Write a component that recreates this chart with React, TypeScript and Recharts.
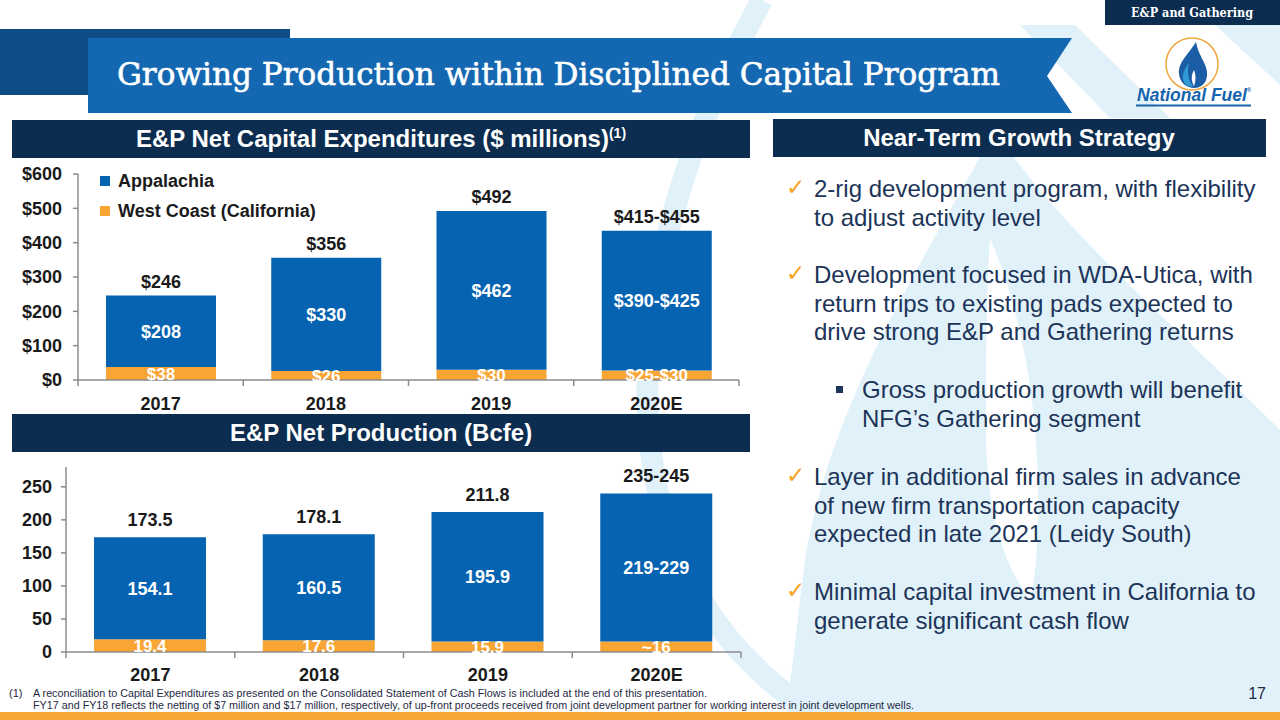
import React from "react";
import { BarChart, Bar, XAxis, YAxis, Legend, LabelList } from "recharts";

// ---- data ----
const YEARS = ["2017", "2018", "2019", "2020E"];

const CAPEX_WEST = [38, 26, 30, 27.5];
const CAPEX_APPALACHIA = [208, 330, 462, 407.5];
const CAPEX_WEST_LABELS = ["$38", "$26", "$30", "$25-$30"];
const CAPEX_APP_LABELS = ["$208", "$330", "$462", "$390-$425"];
const CAPEX_TOTAL_LABELS = ["$246", "$356", "$492", "$415-$455"];
const CAPEX_TICKS = [0, 100, 200, 300, 400, 500, 600];

const PROD_WEST = [19.4, 17.6, 15.9, 16];
const PROD_APPALACHIA = [154.1, 160.5, 195.9, 224];
const PROD_WEST_LABELS = ["19.4", "17.6", "15.9", "~16"];
const PROD_APP_LABELS = ["154.1", "160.5", "195.9", "219-229"];
const PROD_TOTAL_LABELS = ["173.5", "178.1", "211.8", "235-245"];
const PROD_TICKS = [0, 50, 100, 150, 200, 250];

const SERIES = ["Appalachia", "West Coast (California)"];

const capexData = YEARS.map((year, i) => ({
  year,
  west: CAPEX_WEST[i],
  app: CAPEX_APPALACHIA[i],
  westLabel: CAPEX_WEST_LABELS[i],
  appLabel: CAPEX_APP_LABELS[i],
  totalLabel: CAPEX_TOTAL_LABELS[i],
}));

const prodData = YEARS.map((year, i) => ({
  year,
  west: PROD_WEST[i],
  app: PROD_APPALACHIA[i],
  westLabel: PROD_WEST_LABELS[i],
  appLabel: PROD_APP_LABELS[i],
  totalLabel: PROD_TOTAL_LABELS[i],
}));

// ---- styles ----
const FONT = "'Liberation Sans', Arial, sans-serif";
const SERIF = "'DejaVu Serif', serif";
const BLUE = "#0563b1";
const ORANGE = "#f9a533";
const NAVY = "#0c2d4f";
const TEXT = "#1a1a1a";
const BODY = "#1c3458";
const AXIS = "#8c8c8c";
const LIGHT = "#e1f1f9";

const labelStyle = { fontSize: 18, fontWeight: "bold", fontFamily: FONT };

function CategoryTick(props: any) {
  const { x, y, payload, index, visibleTicksCount, half, textDy } = props;
  const h = payload && payload.offset ? payload.offset : half;
  const last = index === (visibleTicksCount || YEARS.length) - 1;
  return (
    <g>
      <line x1={x - h} x2={x - h} y1={y} y2={y + 6} stroke={AXIS} strokeWidth={1.5} />
      {last && <line x1={x + h} x2={x + h} y1={y} y2={y + 6} stroke={AXIS} strokeWidth={1.5} />}
      <text x={x} y={y + textDy} textAnchor="middle" fill={TEXT} {...labelStyle}>
        {payload.value}
      </text>
    </g>
  );
}

function CapexLegend() {
  const colors = [BLUE, ORANGE];
  return (
    <div style={{ fontFamily: FONT }}>
      {SERIES.map((name, i) => (
        <div key={name} style={{ display: "flex", alignItems: "center", height: 30 }}>
          <span style={{ width: 10, height: 10, background: colors[i], marginRight: 8, display: "inline-block" }} />
          <span style={{ fontSize: 18, fontWeight: "bold", color: TEXT }}>{name}</span>
        </div>
      ))}
    </div>
  );
}

function CapexChart() {
  return (
    <BarChart width={760} height={255} data={capexData} margin={{ top: 14, right: 21, bottom: 0, left: 0 }}>
      <XAxis
        dataKey="year"
        interval={0}
        height={35}
        tickSize={0}
        tickMargin={0}
        tickLine={false}
        axisLine={{ stroke: AXIS, strokeWidth: 1.5 }}
        tick={<CategoryTick half={82.6} textDy={29.5} />}
      />
      <YAxis
        domain={[0, 600]}
        ticks={CAPEX_TICKS}
        interval={0}
        width={78}
        tickFormatter={(v) => `$${v}`}
        tickSize={5}
        tickMargin={11}
        axisLine={{ stroke: AXIS, strokeWidth: 1.5 }}
        tickLine={{ stroke: AXIS, strokeWidth: 1.5 }}
        tick={{ fill: TEXT, ...labelStyle }}
      />
      <Legend
        layout="vertical"
        align="center"
        verticalAlign="middle"
        wrapperStyle={{ left: 100, top: 6, width: 300 }}
        content={() => <CapexLegend />}
      />
      <Bar dataKey="west" stackId="a" fill={ORANGE} barSize={110} isAnimationActive={false}>
        <LabelList dataKey="westLabel" position="center" fill="#fff" {...labelStyle} fontSize={17} />
      </Bar>
      <Bar dataKey="app" stackId="a" fill={BLUE} barSize={110} isAnimationActive={false}>
        <LabelList dataKey="appLabel" position="center" fill="#fff" {...labelStyle} />
        <LabelList dataKey="totalLabel" position="top" offset={8} fill={TEXT} {...labelStyle} />
      </Bar>
    </BarChart>
  );
}

function ProdChart() {
  return (
    <BarChart width={760} height={235} data={prodData} margin={{ top: 12, right: 19, bottom: 0, left: 0 }}>
      <XAxis
        dataKey="year"
        interval={0}
        height={38}
        tickSize={0}
        tickMargin={0}
        tickLine={false}
        axisLine={{ stroke: AXIS, strokeWidth: 1.5 }}
        tick={<CategoryTick half={84.4} textDy={28.5} />}
      />
      <YAxis
        domain={[0, 280]}
        ticks={PROD_TICKS}
        interval={0}
        width={66}
        tickSize={5}
        tickMargin={9}
        axisLine={{ stroke: AXIS, strokeWidth: 1.5 }}
        tickLine={{ stroke: AXIS, strokeWidth: 1.5 }}
        tick={{ fill: TEXT, ...labelStyle }}
      />
      <Bar dataKey="west" stackId="a" fill={ORANGE} barSize={112} isAnimationActive={false}>
        <LabelList dataKey="westLabel" position="center" fill="#fff" {...labelStyle} fontSize={17} />
      </Bar>
      <Bar dataKey="app" stackId="a" fill={BLUE} barSize={112} isAnimationActive={false}>
        <LabelList dataKey="appLabel" position="center" fill="#fff" {...labelStyle} />
        <LabelList dataKey="totalLabel" position="top" offset={11} fill={TEXT} {...labelStyle} />
      </Bar>
    </BarChart>
  );
}

const BULLETS = [
  { kind: "check", lines: ["2-rig development program, with flexibility", "to adjust activity level"], y: 197 },
  {
    kind: "check",
    lines: ["Development focused in WDA-Utica, with", "return trips to existing pads expected to", "drive strong E&P and Gathering returns"],
    y: 283,
  },
  { kind: "sub", lines: ["Gross production growth will benefit", "NFG\u2019s Gathering segment"], y: 398 },
  {
    kind: "check",
    lines: ["Layer in additional firm sales in advance", "of new firm transportation capacity", "expected in late 2021 (Leidy South)"],
    y: 485,
  },
  { kind: "check", lines: ["Minimal capital investment in California to", "generate significant cash flow"], y: 600 },
];

function Slide() {
  return (
    <svg width={1280} height={720} style={{ position: "absolute", left: 0, top: 0 }}>
      <rect x={0} y={0} width={1280} height={720} fill="#fff" />
      {/* background watermark */}
      <path d="M 762 0 C 690 130, 630 300, 652 460 C 672 600, 760 700, 880 745" fill="none" stroke={LIGHT} strokeWidth={22} />
      <path d="M 995 130 C 930 250, 830 400, 805 560 C 795 640, 790 690, 785 720 L 1280 720 L 1280 430 C 1180 330, 1060 230, 995 130 Z" fill={LIGHT} />
      <path d="M 990 238 C 1025 320, 1040 420, 1038 520 C 1037 560, 1034 585, 1030 600 C 1000 560, 985 500, 986 420 C 986 340, 987 280, 990 238 Z" fill="#fff" />
      <polygon points="1020,25 1075,25 1170,118 1110,118" fill={LIGHT} />
      <polygon points="1215,25 1280,25 1280,85" fill={LIGHT} />

      {/* top tag */}
      <rect x={1105} y={0} width={175} height={25} fill={NAVY} />
      <text x={1131} y={17} fill="#fff" fontFamily={SERIF} fontWeight="bold" fontSize={13.5} textLength={122} lengthAdjust="spacingAndGlyphs">
        E&amp;P and Gathering
      </text>

      {/* title banner */}
      <rect x={0} y={29} width={290} height={66} fill="#0d4c86" />
      <polygon points="88,38 1072,38 1047,76 1072,113 88,113" fill="#1468b2" />
      <text x={117} y={85} fill="#fff" stroke="#fff" strokeWidth={0.6} fontFamily={SERIF} fontSize={32} textLength={883} lengthAdjust="spacingAndGlyphs">
        Growing Production within Disciplined Capital Program
      </text>

      {/* logo */}
      <circle cx={1192} cy={64} r={26} fill="#fff" stroke="#f2a541" strokeWidth={1.5} />
      <path d="M 1196 42 C 1188 55, 1178 62, 1179 74 C 1180 83, 1187 88, 1194 88 C 1202 88, 1208 82, 1207 72 C 1206 62, 1198 55, 1196 42 Z" fill="#1b5ea6" />
      <path d="M 1189 63 C 1183 70, 1181 78, 1185 84 C 1188 87, 1192 87, 1193 86 C 1188 80, 1187 72, 1189 63 Z" fill="#2e9bd6" />
      <path d="M 1194 70 C 1191 75, 1191 81, 1194 86 C 1196 81, 1196 75, 1194 70 Z" fill="#fff" />
      <text x={1137} y={101} fill="#1564ad" fontFamily={FONT} fontWeight="bold" fontStyle="italic" fontSize={19} textLength={114} lengthAdjust="spacingAndGlyphs">
        National Fuel
        <tspan fontSize={6} fontStyle="normal" dy={-9}>®</tspan>
      </text>
      <line x1={1136} x2={1251} y1={105.5} y2={105.5} stroke="#1564ad" strokeWidth={1.8} />

      {/* section headers */}
      <rect x={12} y={120} width={738} height={38} fill={NAVY} />
      <text x={381} y={147} textAnchor="middle" fill="#fff" fontFamily={FONT} fontWeight="bold" fontSize={24}>
        E&amp;P Net Capital Expenditures ($ millions)
        <tspan fontSize={14} dy={-9}>(1)</tspan>
      </text>
      <rect x={773} y={119} width={493} height={38} fill={NAVY} />
      <text x={1019} y={146} textAnchor="middle" fill="#fff" fontFamily={FONT} fontWeight="bold" fontSize={24}>
        Near-Term Growth Strategy
      </text>
      <rect x={12} y={414} width={738} height={38} fill={NAVY} />
      <text x={381} y={441} textAnchor="middle" fill="#fff" fontFamily={FONT} fontWeight="bold" fontSize={24}>
        E&amp;P Net Production (Bcfe)
      </text>

      {/* strategy bullets */}
      {BULLETS.map((b, i) => (
        <g key={i}>
          {b.kind === "check" ? (
            <text x={786} y={b.y - 2} fill="#f5a31a" fontFamily="'DejaVu Sans', sans-serif" fontSize={23}>
              ✓
            </text>
          ) : (
            <rect x={836} y={b.y - 12} width={7} height={7} fill={BODY} />
          )}
          {b.lines.map((line, j) => (
            <text key={j} x={b.kind === "check" ? 814 : 862} y={b.y + j * 28.7} fill={BODY} fontFamily={FONT} fontSize={24}>
              {line}
            </text>
          ))}
        </g>
      ))}

      {/* footnote */}
      <text x={9} y={697} fill="#1f2a44" fontFamily={FONT} fontSize={11}>(1)</text>
      <text x={33} y={697} fill="#1f2a44" fontFamily={FONT} fontSize={11} textLength={674} lengthAdjust="spacingAndGlyphs">
        A reconciliation to Capital Expenditures as presented on the Consolidated Statement of Cash Flows is included at the end of this presentation.
      </text>
      <text x={33} y={709} fill="#1f2a44" fontFamily={FONT} fontSize={11} textLength={881} lengthAdjust="spacingAndGlyphs">
        FY17 and FY18 reflects the netting of $7 million and $17 million, respectively, of up-front proceeds received from joint development partner for working interest in joint development wells.
      </text>
      <text x={1266} y={699} textAnchor="end" fill="#1f2a44" fontFamily={FONT} fontSize={16}>17</text>
      <rect x={0} y={712} width={1280} height={8} fill="#f7a734" />
    </svg>
  );
}

export default function App() {
  return (
    <div style={{ position: "absolute", left: 0, top: 0, width: 1280, height: 720, overflow: "hidden", background: "#fff", fontFamily: FONT }}>
      <Slide />
      <div style={{ position: "absolute", left: 0, top: 160 }}>
        <CapexChart />
      </div>
      <div style={{ position: "absolute", left: 0, top: 455 }}>
        <ProdChart />
      </div>
    </div>
  );
}
